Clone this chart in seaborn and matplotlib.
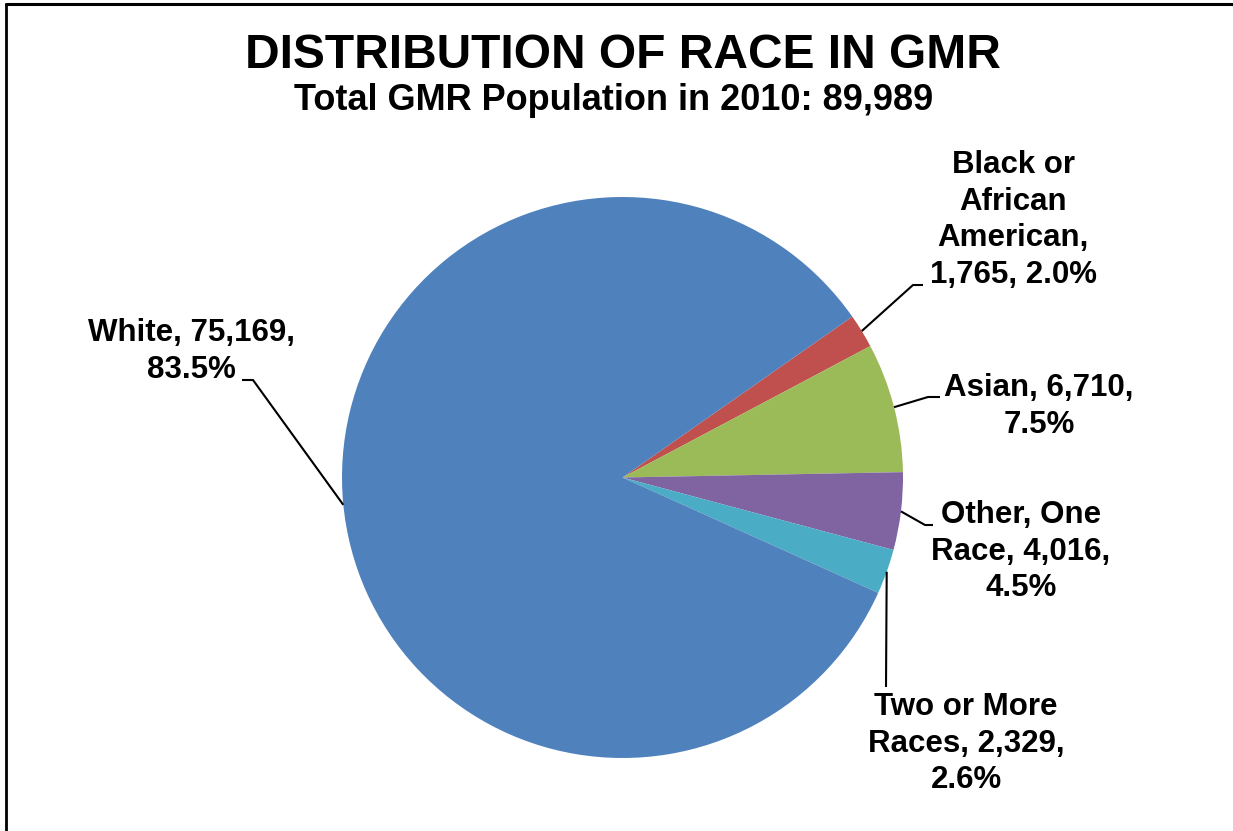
import numpy as np
import matplotlib
matplotlib.use("Agg")
import matplotlib.pyplot as plt
import seaborn as sns

# data (clockwise order, starting at the red slice)
categories = ["Black or African American", "Asian", "Other, One Race",
              "Two or More Races", "White"]
counts = [1765, 6710, 4016, 2329, 75169]
colors = ["#C0504D", "#9BBB59", "#8064A2", "#4BACC6", "#4F81BD"]
# how each label is broken over lines (name part)
name_lines = [["Black or", "African", "American,"],
              ["Asian,"],
              ["Other, One", "Race,"],
              ["Two or More", "Races,"],
              ["White,"]]
total = sum(counts)

W, H = 1233, 831
sns.set_theme(style="white")
plt.rcParams["font.family"] = ["Liberation Sans", "DejaVu Sans"]

fig = plt.figure(figsize=(W / 100, H / 100), dpi=100)
ax = fig.add_axes([0, 0, 1, 1])


def fy(y):
    return H - y


cx, cy, r = 622.5, 477.5, 280.5
wedges, _ = ax.pie(counts, colors=colors, startangle=35, counterclock=False,
                   center=(cx, fy(cy)), radius=r,
                   wedgeprops=dict(linewidth=0))
ax.set_xlim(0, W)
ax.set_ylim(0, H)
ax.set_aspect("equal")
ax.axis("off")


def build_label(i):
    pct = f"{100 * counts[i] / total:.1f}%"
    val = f"{counts[i]:,}"
    nl = name_lines[i]
    if i == 0:
        return nl + [f"{val}, {pct}"]
    if i == 1:
        return [f"{nl[0]} {val},", pct]
    if i in (2, 3):
        return [nl[0], f"{nl[1]} {val},", pct]
    return [f"{nl[0]} {val},", pct]


# label layout: centre x, first baseline y, leader elbow, leader end, attach angle
label_x = [1013, 1039, 1021, 966, 191]
label_y = [173, 396, 523, 715, 341]
elbows = [(913, 285), (928, 397), (925, 525), None, (253, 380)]
ends = [(923, 285), (940, 397), (933, 525), (886, 687), (242, 380)]
attach_override = {4: 185.6}
step = 36.7

for i, w in enumerate(wedges):
    lines = build_label(i)
    for k, line in enumerate(lines):
        ax.text(label_x[i], fy(label_y[i] + k * step), line, ha="center",
                va="baseline", fontsize=22.5, fontweight="bold", color="black")
    ang = attach_override.get(i, (w.theta1 + w.theta2) / 2)
    ex = cx + r * np.cos(np.radians(ang))
    ey = cy - r * np.sin(np.radians(ang))
    pts = [(ex, ey)]
    if elbows[i] is not None:
        pts.append(elbows[i])
    pts.append(ends[i])
    ax.plot([p[0] for p in pts], [fy(p[1]) for p in pts], color="black",
            lw=1.5, solid_capstyle="butt")

ax.text(622.5, fy(68), "DISTRIBUTION OF RACE IN GMR", ha="center",
        va="baseline", fontsize=34.5, fontweight="bold", color="black")
ax.text(614, fy(110), f"Total GMR Population in 2010: {total:,}", ha="center",
        va="baseline", fontsize=26, fontweight="bold", color="black")

# chart frame (top and left edges visible in the crop)
ax.plot([6, W], [fy(3.5), fy(3.5)], color="black", lw=2.2, clip_on=False)
ax.plot([6, 6], [fy(3.5), 0], color="black", lw=2.0, clip_on=False)

fig.savefig("out.png", dpi=100, facecolor="white")
